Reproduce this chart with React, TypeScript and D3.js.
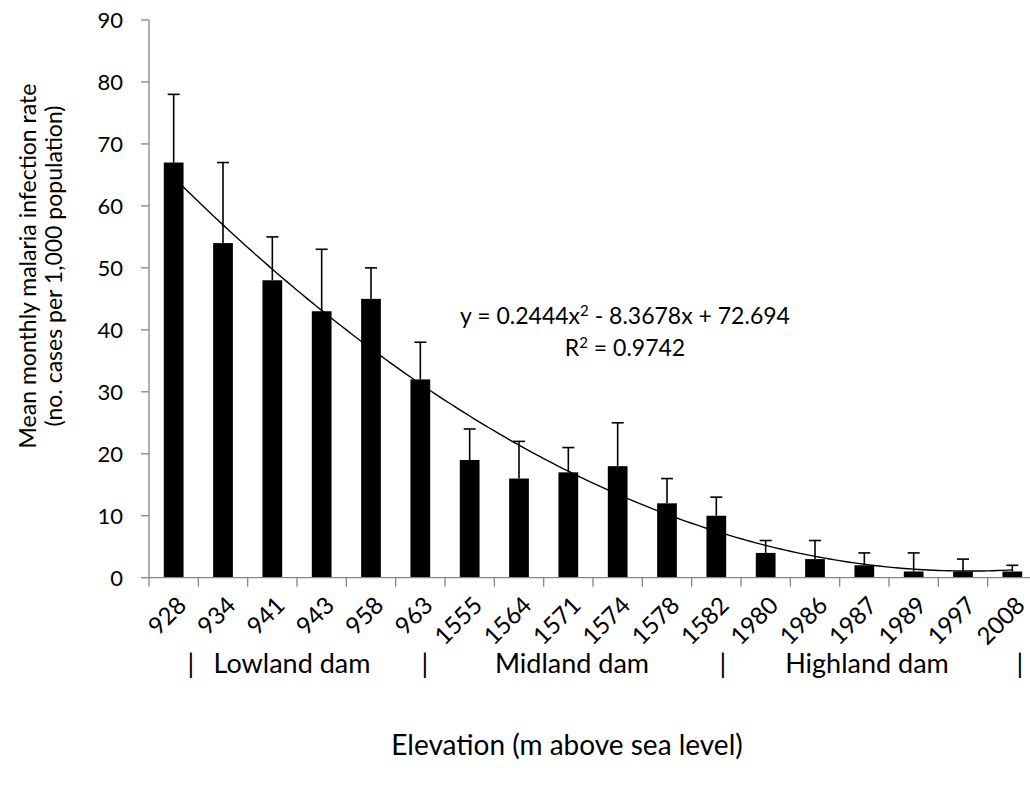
import React from "react";
import * as d3 from "d3";

const categories = ["928","934","941","943","958","963","1555","1564","1571","1574","1578","1582","1980","1986","1987","1989","1997","2008"];
const means = [67,54,48,43,45,32,19,16,17,18,12,10,4,3,2,1,1,1];
const upperErr = [78,67,55,53,50,38,24,22,21,25,16,13,6,6,4,4,3,2];
const yTicks = [0,10,20,30,40,50,60,70,80,90];
const trendCoef = [0.2444, -8.3678, 72.694];
const groupLabels = ["Lowland dam","Midland dam","Highland dam"];

const FONT = "Lato, Carlito, Calibri, sans-serif";

export default function App() {
  const W = 1030, H = 796;
  const left = 149, right = 1037, top = 20, bottom = 577.7;
  const x = d3.scaleBand<string>().domain(categories).range([left, right]).paddingInner(0.6).paddingOuter(0.3);
  const xc = (i: number) => (x(categories[i]) as number) + x.bandwidth() / 2;
  const y = d3.scaleLinear().domain([0, 90]).range([bottom, top]);
  const tickXs = d3.range(categories.length + 1).map(i => left + i * (right - left) / categories.length);

  const trendPts: [number, number][] = [];
  for (let t = 1; t <= categories.length + 0.001; t += 0.1) {
    const v = trendCoef[0] * t * t + trendCoef[1] * t + trendCoef[2];
    trendPts.push([left + (t - 0.5) * (right - left) / categories.length, y(v)]);
  }
  const line = d3.line().curve(d3.curveLinear);
  const axisColor = "#868686";

  return (
    <svg width={W} height={H} style={{ position: "absolute", left: 0, top: 0, background: "#fff" }} fontFamily={FONT}>
      <rect x={0} y={0} width={W} height={H} fill="#fff" />
      {/* y axis */}
      <line x1={left} x2={left} y1={top} y2={bottom} stroke={axisColor} strokeWidth={1.3} />
      {yTicks.map(t => (
        <g key={t}>
          <line x1={left - 8} x2={left} y1={y(t)} y2={y(t)} stroke={axisColor} strokeWidth={1.3} />
          <text x={123} y={y(t)} dy="0.36em" textAnchor="end" fontSize={22} fill="#000">{t}</text>
        </g>
      ))}
      {/* bars */}
      {means.map((v, i) => (
        <rect key={i} x={x(categories[i])} y={y(v)} width={x.bandwidth()} height={y(0) - y(v)} fill="#000" />
      ))}
      {/* x axis */}
      <line x1={left} x2={right} y1={bottom} y2={bottom} stroke={axisColor} strokeWidth={1.3} />
      {tickXs.map((tx, i) => (
        <line key={i} x1={tx} x2={tx} y1={bottom} y2={bottom + 9} stroke={axisColor} strokeWidth={1.3} />
      ))}
      {/* error bars */}
      {upperErr.map((e, i) => (
        <g key={i} stroke="#000" strokeWidth={1.6}>
          <line x1={xc(i)} x2={xc(i)} y1={y(means[i])} y2={y(e)} />
          <line x1={xc(i) - 6} x2={xc(i) + 6} y1={y(e)} y2={y(e)} />
        </g>
      ))}
      {/* trendline */}
      <path d={line(trendPts) || ""} fill="none" stroke="#000" strokeWidth={1.4} />
      {/* equation */}
      <text x={625} y={324} textAnchor="middle" fontSize={23}>
        y = 0.2444x<tspan dy={-8} fontSize={15}>2</tspan><tspan dy={8}> - 8.3678x + 72.694</tspan>
      </text>
      <text x={625} y={356} textAnchor="middle" fontSize={23}>
        R<tspan dy={-8} fontSize={15}>2</tspan><tspan dy={8}> = 0.9742</tspan>
      </text>
      {/* x tick labels */}
      {categories.map((c, i) => (
        <text key={c} transform={`translate(${xc(i) + 8},${bottom + 23}) rotate(-45)`} textAnchor="end" dy="0.36em" fontSize={24}>{c}</text>
      ))}
      {/* group labels */}
      {[191, 425, 723, 1020].map((gx, i) => (
        <text key={"b" + i} x={gx} y={673} textAnchor="middle" fontSize={27}>|</text>
      ))}
      {groupLabels.map((g, i) => (
        <text key={g} x={[292, 572, 867][i]} y={673} textAnchor="middle" fontSize={27}>{g}</text>
      ))}
      {/* x title */}
      <text x={567} y={755} textAnchor="middle" fontSize={28}>Elevation (m above sea level)</text>
      {/* y title */}
      <text transform={`translate(36,266) rotate(-90)`} textAnchor="middle" fontSize={23}>Mean monthly malaria infection rate</text>
      <text transform={`translate(62,266) rotate(-90)`} textAnchor="middle" fontSize={23}>(no. cases per 1,000 population)</text>
    </svg>
  );
}
